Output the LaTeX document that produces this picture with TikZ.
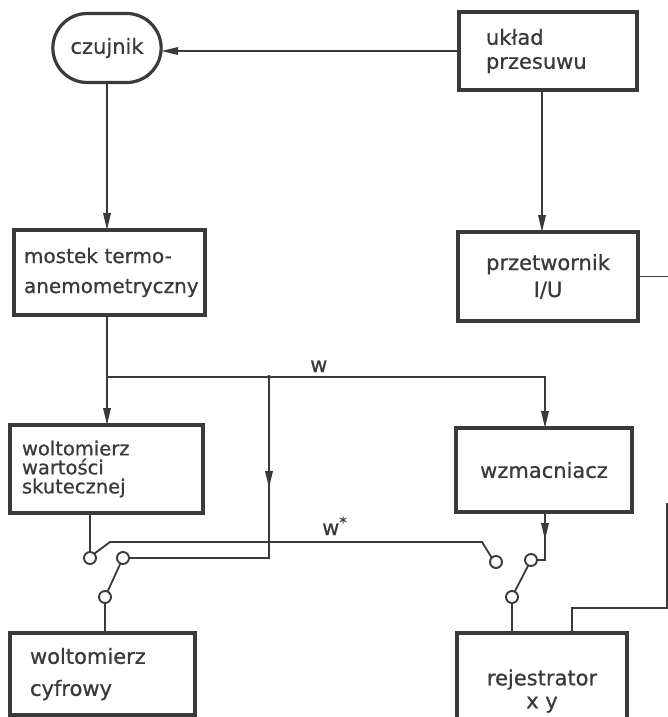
\documentclass[tikz,border=0pt]{standalone}
\usepackage{fontspec}
\setmainfont{DejaVu Sans}[FakeBold=0.7]
\usetikzlibrary{arrows.meta,shapes.misc,decorations.markings}
\definecolor{ink}{HTML}{3A3A3A}
\newcommand\lett[1]{\fontsize{21}{#1}\selectfont}
\newcommand\lettsz[2]{\fontsize{#1}{#2}\selectfont}

\begin{document}
\begin{tikzpicture}[x=1pt,y=-1pt,
  box/.style={draw=ink, line width=3.2pt, text=ink, inner ysep=0pt, outer sep=0pt},
  conn/.style={draw=ink, line width=1.8pt},
  arrowin/.style={-{Triangle[length=17pt,width=7.5pt]}},
  midarrow/.style={postaction={decorate}, decoration={markings, mark=at position #1 with {\arrow[ink]{Triangle[length=17pt,width=7.5pt]}}}},
  contact/.style={circle, draw=ink, line width=1.9pt, fill=white, minimum size=12pt, inner sep=0pt, outer sep=0pt},
  lbl/.style={text=ink, font=\lett{24}, inner sep=0pt, anchor=base west}
]
\useasboundingbox (0,0) rectangle (668,717);
\fill[white] (0,0) rectangle (668,717);
\clip (0,0) rectangle (668,717);

% blocks
\node[box, rounded rectangle, minimum width=115pt, minimum height=69pt, font=\lett{24}] (czujnik) at (107,48) {czujnik};
\node[box, minimum width=178pt, minimum height=78pt, inner xsep=27pt, text width=124pt, align=left, font=\lett{24}] (uklad) at (548,51) {układ\\przesuwu};
\node[box, minimum width=180pt, minimum height=89pt, align=center, font=\lett{27}] (przetw) at (548,276.5) {przetwornik\\I/U};
\node[box, minimum width=191pt, minimum height=85pt, inner xsep=10pt, text width=171pt, align=left, font={\lettsz{20}{30}}] (mostek) at (109.5,272.5) {mostek termo-\\anemometryczny};
\node[box, minimum width=193pt, minimum height=88pt, inner xsep=12pt, text width=169pt, align=left, font={\lettsz{19.5}{19}}] (wwart) at (106.5,469) {woltomierz\\wartości\\skutecznej};
\node[box, minimum width=176pt, minimum height=84pt, font=\lett{24}] (wzm) at (544,470) {wzmacniacz};
\node[box, minimum width=185pt, minimum height=82pt, inner xsep=20pt, text width=145pt, align=left, font=\lett{32}] (cyf) at (102.5,674) {woltomierz\\cyfrowy};
\node[box, minimum width=170pt, minimum height=116pt, align=center, font=\lett{23}] (rej) at (542,691) {rejestrator\\x y};

% switch contacts
\node[contact] (s1L) at (90,558) {};
\node[contact] (s1R) at (123,558) {};
\node[contact] (s1C) at (105,597) {};
\node[contact] (s2L) at (496,562) {};
\node[contact] (s2R) at (531,560) {};
\node[contact] (s2C) at (512,597) {};

% junctions and free ends
\coordinate (jL) at (107,377);
\coordinate (jW) at (269,377);
\coordinate (jR) at (545,377);
\coordinate (ws1) at (110,542);
\coordinate (ws2) at (482,542);
\coordinate (eU) at (672,277);
\coordinate (eD) at (667,503);
\coordinate (rx) at (572,608);

% connectors
\draw[conn, arrowin] (uklad.west) -- (uklad.west -| czujnik.east);
\draw[conn, arrowin] (czujnik.south) -- (czujnik.south |- mostek.north);
\draw[conn, arrowin] ([xshift=-6pt]uklad.south) -- ([xshift=-6pt]przetw.north);
\draw[conn] (przetw.east) -- (przetw.east -| eU);
\draw[conn] (mostek.south -| jL) -- (jL);
\draw[conn, arrowin] (jL) -- (jL |- wwart.north);
\draw[conn, arrowin] (jL) -- (jR) -- (jR |- wzm.north);
\draw[conn, midarrow=111pt] (jW) |- (s1R.east);
\fill[ink] (jW) circle (2pt);

\draw[conn] (s1L.north) -- (s1L.north |- wwart.south);
\draw[conn] (s1L.45) -- (ws1) -- (ws2) -- (s2L.135);
\draw[conn] (s1C.65) -- (s1R.245);
\draw[conn] (s1C.south) -- (s1C.south |- cyf.north);

\draw[conn, midarrow=28pt] (wzm.south -| jR) |- (s2R.east);
\draw[conn] (s2C.63) -- (s2R.243);
\draw[conn] (s2C.south) -- (s2C.south |- rej.north);
\draw[conn] (rej.north -| rx) -- (rx) -| (eD);

% labels
\node[lbl] (lw) at (310,372) {w};
\node[lbl] (lws) at (322,535) {w\textsuperscript{*}};
\end{tikzpicture}
\end{document}
